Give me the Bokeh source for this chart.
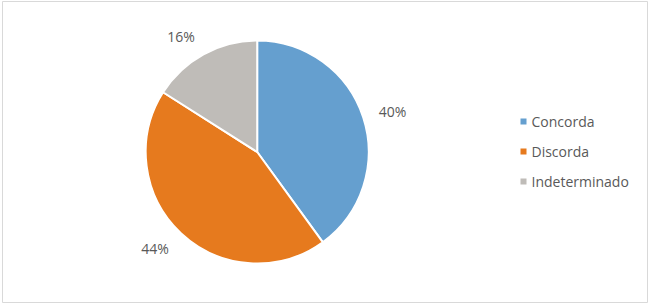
import numpy as np
from bokeh.plotting import figure
from bokeh.models import Range1d, ColumnDataSource
from bokeh.core.properties import value
from bokeh.embed import file_html
from bokeh.resources import INLINE

# ---- data ----
categories = ["Concorda", "Discorda", "Indeterminado"]
percentages = [40, 44, 16]
colors = ["#659FCF", "#E67A1E", "#BFBCB8"]
label_texts = [f"{v}%" for v in percentages]

# ---- layout (page pixel based coordinates, y flipped) ----
PAGE_H = 305
W, H = 648, 303
cx, cy, r = 256.7, PAGE_H - 151.5, 111.5
FONT = "Open Sans"
TEXT_COLOR = "#595959"
FS = "14px"

p = figure(width=W, height=H, x_range=Range1d(0, W), y_range=Range1d(PAGE_H - H, PAGE_H),
           output_backend="svg", toolbar_location=None, min_border=0)
p.axis.visible = False
p.xgrid.visible = False
p.ygrid.visible = False
p.outline_line_color = None
p.background_fill_color = "white"
p.border_fill_color = "white"

# chart area border
p.quad(left=[2], right=[647], top=[PAGE_H - 1], bottom=[PAGE_H - 302],
       fill_color=None, line_color="#D9D9D9", line_width=1)

vals = np.array(percentages, dtype=float)
frac = vals / vals.sum()
cum_after = np.cumsum(frac)
cum_before = cum_after - frac
start = np.pi / 2 - 2 * np.pi * cum_before
end = np.pi / 2 - 2 * np.pi * cum_after
mid = np.pi / 2 - 2 * np.pi * (cum_before + frac / 2)

src = ColumnDataSource(dict(start=start, end=end, color=colors, cat=categories))
p.wedge(x=cx, y=cy, radius=r, start_angle="start", end_angle="end",
        direction="clock", fill_color="color", line_color="white", line_width=2,
        source=src)

# data labels, outside end
R, lw, lh = 125, 29, 14
dx, dy = np.cos(mid), np.sin(mid)
lx = cx + R * dx + (lw / 2 + 2) * np.clip(2 * dx, -1, 1)
ly = cy + R * dy + lh / 2 * np.clip(dy, -1, 1)
p.text(x=lx, y=ly, text=label_texts, text_align="center", text_baseline="middle",
       text_font=value(FONT), text_font_size=FS, text_color=TEXT_COLOR)

# legend
leg_y = PAGE_H - (121 + 30 * np.arange(len(categories)))
p.scatter(x=[523] * len(categories), y=leg_y, marker="square", size=6,
          fill_color=colors, line_color=None)
p.text(x=[531] * len(categories), y=leg_y, text=categories, text_align="left",
       text_baseline="middle", text_font=value(FONT), text_font_size=FS,
       text_color=TEXT_COLOR)

open("out.html", "w").write(file_html(p, INLINE))
